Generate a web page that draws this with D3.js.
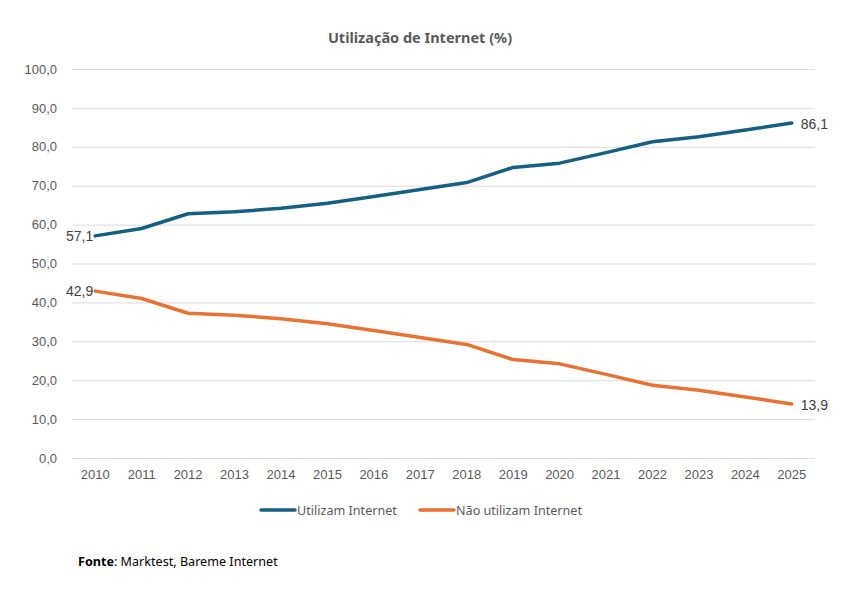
<!DOCTYPE html>
<html>
  <head>
    <meta charset="utf-8" />
    <title>Utilização de Internet (%)</title>
    <script src="https://d3js.org/d3.v7.min.js"></script>
    <style>
      body { margin: 0; background: #fff; }
      text { fill: #595959; }
      .tick text { font-family: "Liberation Sans", Arial, sans-serif; font-size: 13px; }
      .label { font-family: "Liberation Sans", Arial, sans-serif; font-size: 14px; fill: #404040; }
      .title { font-family: "Noto Sans", sans-serif; font-size: 14.5px; font-weight: bold; }
      .legend, .source { font-family: "Noto Sans", sans-serif; font-size: 12.6px; }
    </style>
  </head>
  <body>
    <div id="chart"></div>
    <script>
      const years = ["2010", "2011", "2012", "2013", "2014", "2015", "2016", "2017",
                     "2018", "2019", "2020", "2021", "2022", "2023", "2024", "2025"];
      const utilizam = [57.1, 59.0, 62.8, 63.3, 64.2, 65.5, 67.2, 69.0,
                        70.8, 74.7, 75.8, 78.5, 81.3, 82.6, 84.3, 86.1];
      const naoUtilizam = [42.9, 41.0, 37.2, 36.7, 35.8, 34.5, 32.8, 31.0,
                           29.2, 25.3, 24.2, 21.5, 18.7, 17.4, 15.7, 13.9];
      const yTicks = [0, 10, 20, 30, 40, 50, 60, 70, 80, 90, 100];

      const W = 859, H = 589;
      const margin = { top: 69, right: 44, bottom: 131, left: 72 };
      const width = W - margin.left - margin.right;
      const height = H - margin.top - margin.bottom;

      const svg = d3.select("#chart").append("svg")
        .attr("width", W).attr("height", H);

      const g = svg.append("g")
        .attr("transform", `translate(${margin.left},${margin.top})`);

      const x = d3.scaleBand().domain(years).range([0, width]);
      const y = d3.scaleLinear().domain([0, 100]).range([height, 0]);
      const fmt = v => d3.format(".1f")(v).replace(".", ",");

      // grid lines + y labels
      const yAxis = g.append("g")
        .call(d3.axisLeft(y).tickValues(yTicks).tickSize(-width).tickPadding(15).tickFormat(fmt));
      yAxis.select(".domain").remove();
      yAxis.selectAll(".tick line").attr("stroke", "#d9d9d9");

      const xAxis = g.append("g")
        .attr("transform", `translate(0,${height})`)
        .call(d3.axisBottom(x).tickSize(0).tickPadding(12));
      xAxis.select(".domain").remove();

      const series = [
        { name: "Utilizam Internet", values: utilizam, color: "#156082" },
        { name: "Não utilizam Internet", values: naoUtilizam, color: "#e97132" }
      ];

      const line = d3.line()
        .x((d, i) => x(years[i]) + x.bandwidth() / 2)
        .y(d => y(d));

      series.forEach(s => {
        g.append("path")
          .datum(s.values)
          .attr("fill", "none")
          .attr("stroke", s.color)
          .attr("stroke-width", 3.5)
          .attr("stroke-linecap", "round")
          .attr("stroke-linejoin", "round")
          .attr("d", line);

        const first = s.values[0], last = s.values[s.values.length - 1];
        g.append("text").attr("class", "label")
          .attr("x", x(years[0]) + x.bandwidth() / 2 - 2)
          .attr("y", y(first) + 5)
          .attr("text-anchor", "end")
          .text(fmt(first));
        g.append("text").attr("class", "label")
          .attr("x", x(years[years.length - 1]) + x.bandwidth() / 2 + 9)
          .attr("y", y(last) + 6)
          .text(fmt(last));
      });

      // title
      svg.append("text").attr("class", "title")
        .attr("x", 420).attr("y", 43)
        .attr("text-anchor", "middle")
        .text("Utilização de Internet (%)");

      // legend
      const legend = svg.append("g").attr("transform", "translate(261,510)");
      const legendX = [0, 159];
      series.forEach((s, i) => {
        const lg = legend.append("g").attr("transform", `translate(${legendX[i]},0)`);
        lg.append("line").attr("x1", 0).attr("x2", 34)
          .attr("stroke", s.color).attr("stroke-width", 3.5).attr("stroke-linecap", "round");
        lg.append("text").attr("class", "legend")
          .attr("x", 36).attr("y", 5).text(s.name);
      });

      // source
      const src = svg.append("text").attr("class", "source")
        .attr("x", 78).attr("y", 566);
      src.append("tspan").attr("font-weight", "bold").style("fill", "#000").text("Fonte");
      src.append("tspan").style("fill", "#000").text(": Marktest, Bareme Internet");
    </script>
  </body>
</html>
